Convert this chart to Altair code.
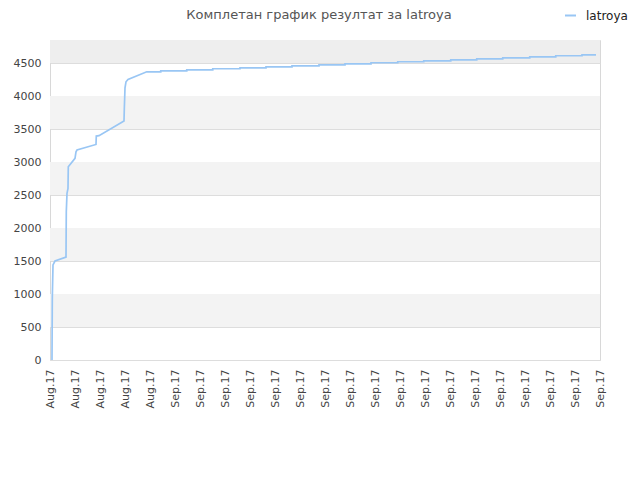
import altair as alt
import pandas as pd

# ---- data ----
series_name = "latroya"
title_text = "Комплетан график резултат за latroya"

# main curve (x in label-index units, y = score)
curve_x = [0.08, 0.092, 0.12, 0.20, 0.64, 0.652, 0.68, 0.72, 0.732, 1.00, 1.04, 1.08,
           1.84, 1.852, 1.96, 2.96, 2.972, 3.00, 3.04, 3.12, 3.87]
curve_y = [0, 940, 1440, 1500, 1560, 2250, 2525, 2600, 2930, 3056, 3156, 3182,
           3267, 3394, 3400, 3621, 3800, 4126, 4217, 4252, 4368]

# later daily steps: position of each jump and the value after it
step_x = [4.43, 5.47, 6.51, 7.60, 8.64, 9.68, 10.76, 11.80, 12.84, 13.91, 14.95,
          16.03, 17.07, 18.11, 19.19, 20.23, 21.28]
step_y = [4383, 4398, 4414, 4429, 4444, 4459, 4474, 4489, 4505, 4520, 4535,
          4550, 4565, 4580, 4595, 4611, 4626]
end_x = 21.84

x_labels = ["Aug.17", "Aug.17", "Aug.17", "Aug.17", "Aug.17",
            "Sep.17", "Sep.17", "Sep.17", "Sep.17", "Sep.17", "Sep.17",
            "Sep.17", "Sep.17", "Sep.17", "Sep.17", "Sep.17", "Sep.17",
            "Sep.17", "Sep.17", "Sep.17", "Sep.17", "Sep.17", "Sep.17"]
y_ticks = [0, 500, 1000, 1500, 2000, 2500, 3000, 3500, 4000, 4500]
y_max = 4850

band_lo = [500, 1500, 2500, 3500, 4500]
band_hi = [1000, 2000, 3000, 4000, 4850]
band_col = ["#f3f3f3", "#f3f3f3", "#f3f3f3", "#f3f3f3", "#eeeeee"]

# ---- build tables ----
rows = []
for x, y in zip(curve_x, curve_y):
    rows.append((x, y))
prev = curve_y[-1]
for x, y in zip(step_x, step_y):
    rows.append((x, prev))
    rows.append((x, y))
    prev = y
rows.append((end_x, prev))
line_df = pd.DataFrame({"x": [r[0] for r in rows], "y": [r[1] for r in rows],
                        "i": list(range(len(rows))), "s": series_name})
band_df = pd.DataFrame({"lo": band_lo, "hi": band_hi, "c": band_col})

label_arr = "[" + ",".join('"%s"' % l for l in x_labels) + "]"

FONT = "DejaVu Sans"

y_scale = alt.Scale(domain=[0, y_max], nice=False)
y_axis = alt.Axis(values=y_ticks, format="d", ticks=False, domain=False, grid=True,
                  gridColor="#dddddd", labelPadding=9, labelFont=FONT,
                  labelFontSize=11, labelColor="#444", title=None,
                  labelOverlap=False)

bands = alt.Chart(band_df).mark_rect().encode(
    y=alt.Y("lo:Q", scale=y_scale, axis=y_axis),
    y2="hi:Q",
    fill=alt.Fill("c:N", scale=None, legend=None),
)

line = alt.Chart(line_df).mark_line(strokeWidth=1.7, interpolate="linear").encode(
    x=alt.X("x:Q", scale=alt.Scale(domain=[0, len(x_labels) - 1], nice=False, zero=False),
            axis=alt.Axis(values=list(range(len(x_labels))), labelExpr=label_arr + "[datum.value]",
                          labelAngle=-90, labelAlign="right", labelBaseline="middle",
                          ticks=False, grid=False, domain=False, labelPadding=9,
                          labelFont=FONT, labelFontSize=11, labelColor="#444",
                          title=None, labelOverlap=False, labelBound=False)),
    y=alt.Y("y:Q", scale=y_scale, axis=y_axis),
    order="i:Q",
    stroke=alt.Stroke("s:N", scale=alt.Scale(domain=[series_name], range=["#99c6f4"]),
                      legend=alt.Legend(title=None, orient="none", legendX=514, legendY=-31,
                                        symbolType="stroke", symbolStrokeWidth=2,
                                        symbolSize=121, labelFont=FONT, labelFontSize=12,
                                        labelOffset=9, labelColor="#222", padding=0)),
)

chart = alt.layer(bands, line).properties(
    width=550, height=320,
    padding={"left": 42, "top": 32, "right": 30, "bottom": 100},
    autosize=alt.AutoSizeParams(type="none"),
    title=alt.Title(title_text, anchor="middle", frame="group", dx=-6, offset=-12.5,
                    font=FONT, fontSize=13, fontWeight="normal", color="#555"),
    background="white",
).resolve_scale(fill="independent", stroke="independent").configure_view(
    stroke="#d8d8d8", strokeWidth=1)

chart.save("out.html", embed_options={"renderer": "svg", "actions": False})
